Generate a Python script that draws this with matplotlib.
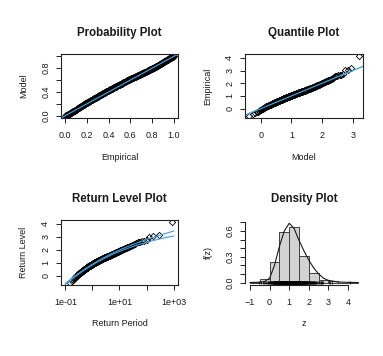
import numpy as np
import matplotlib
matplotlib.use('Agg')
import matplotlib.pyplot as plt
from matplotlib.transforms import offset_copy

plt.rcParams['font.family'] = ['Liberation Sans', 'DejaVu Sans']

data = np.array([
    -0.55, -0.44, -0.36, -0.29, -0.23, -0.18, -0.14, -0.10, -0.07, -0.04, -0.02,
    0.01, 0.03, 0.05, 0.07, 0.09, 0.11, 0.12, 0.13, 0.15, 0.16, 0.17, 0.18, 0.19,
    0.20, 0.21, 0.22, 0.23, 0.24, 0.25, 0.26, 0.27, 0.27, 0.28, 0.29,
    0.30, 0.31, 0.31, 0.32, 0.33, 0.34, 0.34, 0.35, 0.36, 0.37, 0.37, 0.38, 0.39,
    0.40, 0.41, 0.41, 0.42, 0.42, 0.43, 0.44, 0.44, 0.45, 0.45, 0.46, 0.46, 0.47, 0.47, 0.48, 0.48, 0.49,
    0.50, 0.50, 0.51, 0.51, 0.52, 0.52, 0.53, 0.53, 0.54, 0.54, 0.55, 0.55, 0.56, 0.56, 0.57, 0.57,
    0.58, 0.58, 0.59, 0.59, 0.59,
    0.60, 0.60, 0.61, 0.61, 0.61, 0.62, 0.62, 0.63, 0.63, 0.64, 0.64, 0.64, 0.65, 0.65, 0.66, 0.66,
    0.67, 0.67, 0.67, 0.68, 0.68, 0.69, 0.69, 0.69,
    0.70, 0.70, 0.70, 0.71, 0.71, 0.71, 0.72, 0.72, 0.72, 0.73, 0.73, 0.73, 0.74, 0.74, 0.74, 0.75,
    0.75, 0.76, 0.76, 0.76, 0.77, 0.77, 0.78, 0.78, 0.78, 0.79, 0.79,
    0.80, 0.80, 0.80, 0.81, 0.81, 0.81, 0.82, 0.82, 0.82, 0.83, 0.83, 0.83, 0.84, 0.84, 0.84,
    0.85, 0.85, 0.85, 0.86, 0.86, 0.86, 0.87, 0.87, 0.87, 0.88, 0.88, 0.88, 0.89, 0.89, 0.89,
    0.90, 0.90, 0.90, 0.91, 0.91, 0.91, 0.92, 0.92, 0.92, 0.93, 0.93, 0.93, 0.94, 0.94, 0.94,
    0.95, 0.95, 0.95, 0.95, 0.96, 0.96, 0.96, 0.97, 0.97, 0.97, 0.98, 0.98, 0.98, 0.99, 0.99, 0.99,
    1.00, 1.00, 1.00, 1.01, 1.01, 1.01, 1.02, 1.02, 1.02, 1.03, 1.03, 1.03, 1.04, 1.04, 1.04,
    1.05, 1.05, 1.05, 1.05, 1.06, 1.06, 1.06, 1.07, 1.07, 1.07, 1.08, 1.08, 1.08, 1.09, 1.09, 1.09,
    1.10, 1.10, 1.10, 1.11, 1.11, 1.11, 1.12, 1.12, 1.12, 1.13, 1.13, 1.13, 1.14, 1.14, 1.14,
    1.15, 1.15, 1.15, 1.16, 1.16, 1.16, 1.17, 1.17, 1.17, 1.18, 1.18, 1.18, 1.19, 1.19, 1.19,
    1.20, 1.20, 1.20, 1.21, 1.21, 1.21, 1.22, 1.22, 1.22, 1.23, 1.23, 1.23, 1.24, 1.24, 1.24,
    1.25, 1.25, 1.25, 1.26, 1.26, 1.26, 1.27, 1.27, 1.27, 1.28, 1.28, 1.28, 1.29, 1.29, 1.29,
    1.30, 1.30, 1.30, 1.31, 1.31, 1.31, 1.32, 1.32, 1.32, 1.33, 1.33, 1.33, 1.34, 1.34, 1.34,
    1.35, 1.35, 1.35, 1.36, 1.36, 1.36, 1.37, 1.37, 1.37, 1.38, 1.38, 1.38, 1.39, 1.39,
    1.40, 1.40, 1.40, 1.41, 1.41, 1.41, 1.42, 1.42, 1.42, 1.43, 1.43, 1.44, 1.44, 1.44,
    1.45, 1.45, 1.45, 1.46, 1.46, 1.47, 1.47, 1.48, 1.48, 1.48, 1.49, 1.49,
    1.50, 1.50, 1.51, 1.51, 1.52, 1.52, 1.53, 1.53, 1.54, 1.54, 1.55, 1.55, 1.55, 1.56, 1.56,
    1.57, 1.57, 1.58, 1.58, 1.59, 1.59,
    1.60, 1.60, 1.61, 1.61, 1.62, 1.63, 1.63, 1.64, 1.64, 1.65, 1.66, 1.66, 1.67, 1.68, 1.68,
    1.69, 1.69,
    1.70, 1.71, 1.72, 1.72, 1.73, 1.74, 1.75, 1.76, 1.76, 1.77, 1.78, 1.79, 1.79,
    1.80, 1.81, 1.82, 1.83, 1.84, 1.84, 1.85, 1.86, 1.87, 1.88, 1.89,
    1.90, 1.91, 1.92, 1.93, 1.95, 1.96, 1.98, 1.99,
    2.00, 2.01, 2.03, 2.04, 2.05, 2.07, 2.08, 2.09,
    2.11, 2.12, 2.14, 2.16, 2.17, 2.19,
    2.21, 2.23, 2.25, 2.27, 2.29,
    2.31, 2.34, 2.36, 2.39,
    2.42, 2.47,
    2.54, 2.58, 2.61, 2.63, 2.66, 2.69, 2.72,
    3.02, 3.07, 3.17,
    4.12,
])

# fitted GEV parameters (location, scale, shape)
loc, scale, shape = 0.85, 0.55, -0.15

# return level confidence bounds (blue lines)
rl_periods = [0.1, 0.2, 0.5, 1, 2, 5, 10, 20, 50, 100, 200, 500, 1000]
rl_lower = [-0.71, -0.19, 0.42, 0.82, 1.18, 1.60, 1.87, 2.11, 2.39, 2.57, 2.74, 2.94, 3.06]
rl_upper = [-0.61, -0.11, 0.48, 0.88, 1.25, 1.69, 1.98, 2.25, 2.57, 2.80, 3.01, 3.26, 3.45]

# density curve
dens_z = [-1.0, -0.5, -0.25, 0.0, 0.25, 0.5, 0.75, 1.0, 1.25, 1.5, 1.75, 2.0, 2.25, 2.5,
          2.75, 3.0, 3.5, 4.0, 4.5]
dens_f = [0.0, 0.003, 0.012, 0.05, 0.2, 0.42, 0.6, 0.69, 0.63, 0.49, 0.37, 0.26, 0.17, 0.10,
          0.05, 0.025, 0.006, 0.002, 0.0]

hist_breaks = [-1.0, -0.5, 0.0, 0.5, 1.0, 1.5, 2.0, 2.5, 3.0, 3.5, 4.0, 4.5]


def gev_cdf(z):
    t = np.clip(1 + shape * (z - loc) / scale, 1e-12, None)
    return np.exp(-t ** (-1 / shape))


def gev_quantile(p):
    return loc + scale * ((-np.log(p)) ** (-shape) - 1) / shape


def padded(lo, hi):
    d = (hi - lo) * 0.04
    return lo - d, hi + d


BLUE = '#3f9ddb'
TXT = '#1a1a1a'
DPI = 100
W, H = 383, 356

fig = plt.figure(figsize=(W / DPI, H / DPI), dpi=DPI)


def add_ax(x0, y0, x1, y1):
    return fig.add_axes([x0 / W, 1 - y1 / H, (x1 - x0) / W, (y1 - y0) / H])


def px_text(ax, x, y, dx, dy, s, **kw):
    tr = offset_copy(ax.transAxes, fig=fig, x=dx * 72 / DPI, y=dy * 72 / DPI, units='points')
    ax.text(x, y, s, transform=tr, ha='center', va='center', color=TXT, **kw)


def decorate(ax, title, xlabel, ylabel, box=True):
    for sp in ax.spines.values():
        sp.set_linewidth(0.8)
        sp.set_color('#222222')
    if not box:
        ax.spines['top'].set_visible(False)
        ax.spines['right'].set_visible(False)
    ax.tick_params(direction='out', length=3.3, width=0.7, color='#222222',
                   labelsize=6.5, labelcolor=TXT)
    ax.tick_params(axis='x', pad=5.8)
    ax.tick_params(axis='y', pad=4.5, labelrotation=90)
    for lab in ax.get_yticklabels():
        lab.set_va('center')
    ax.tick_params(which='minor', length=0)
    px_text(ax, 0.5, 1, 0, 21, title, fontsize=8.3, fontweight='bold')
    px_text(ax, 0.5, 0, 0, -39, xlabel, fontsize=6.5)
    px_text(ax, 0, 0.5, -37, 0, ylabel, fontsize=6.5, rotation=90)


n = len(data)
pp = (np.arange(1, n + 1) - 0.5) / n
mk = dict(marker='D', ls='none', mfc='none', mec='black', ms=3.2, mew=0.6)

# probability plot
ax = add_ax(61, 54, 178, 118)
ax.plot(pp, gev_cdf(data), **mk)
ax.plot([-1, 2], [-1, 2], color=BLUE, lw=0.9)
ax.set_xlim(-0.04, 1.04)
ax.set_ylim(-0.04, 1.04)
ax.set_xticks([0, 0.2, 0.4, 0.6, 0.8, 1.0])
ax.set_xticklabels(['0.0', '0.2', '0.4', '0.6', '0.8', '1.0'])
ax.set_yticks([0, 0.2, 0.4, 0.6, 0.8, 1.0])
ax.set_yticklabels(['0.0', '', '0.4', '', '0.8', ''])
decorate(ax, 'Probability Plot', 'Empirical', 'Model')

# quantile plot
ax = add_ax(245, 54, 363, 118)
mq = gev_quantile(pp)
ax.plot(mq, data, **mk)
ax.plot([-2, 6], [-2, 6], color=BLUE, lw=0.9)
ax.set_xlim(*padded(mq.min(), mq.max()))
ax.set_ylim(*padded(data.min(), data.max()))
ax.set_xticks([0, 1, 2, 3])
ax.set_yticks([0, 1, 2, 3, 4])
decorate(ax, 'Quantile Plot', 'Model', 'Empirical')

# return level plot
ax = add_ax(61, 220, 178, 285)
ax.set_xscale('log')
ax.plot(-1 / np.log(pp), data, **mk)
ax.plot(rl_periods, rl_lower, color=BLUE, lw=0.8)
ax.plot(rl_periods, rl_upper, color=BLUE, lw=0.8)
ax.set_xlim(10 ** -1.16, 10 ** 3.16)
ax.set_ylim(*padded(data.min(), data.max()))
ax.set_xticks([0.1, 1, 10, 100, 1000])
ax.set_xticklabels(['1e-01', '', '1e+01', '', '1e+03'])
ax.set_yticks([0, 1, 2, 3, 4])
decorate(ax, 'Return Level Plot', 'Return Period', 'Return Level')

# density plot
ax = add_ax(245, 220, 363, 285)
ax.hist(data, bins=hist_breaks, density=True, facecolor='#d3d3d3',
        edgecolor='#404040', linewidth=0.7)
ax.plot(dens_z, dens_f, color='#1a1a1a', lw=0.8)
ax.vlines(data, -0.022, 0.022, color='black', lw=0.5)
ax.set_xlim(-1.255, 4.765)
ax.set_ylim(-0.029, 0.728)
ax.spines['bottom'].set_bounds(-1, 4)
ax.spines['left'].set_bounds(0, 0.7)
ax.set_xticks([-1, 0, 1, 2, 3, 4])
ax.set_yticks([0, 0.1, 0.2, 0.3, 0.4, 0.5, 0.6, 0.7])
ax.set_yticklabels(['0.0', '', '', '0.3', '', '', '0.6', ''])
decorate(ax, 'Density Plot', 'z', 'f(z)', box=False)

fig.savefig('out.png', dpi=DPI, facecolor='white')
